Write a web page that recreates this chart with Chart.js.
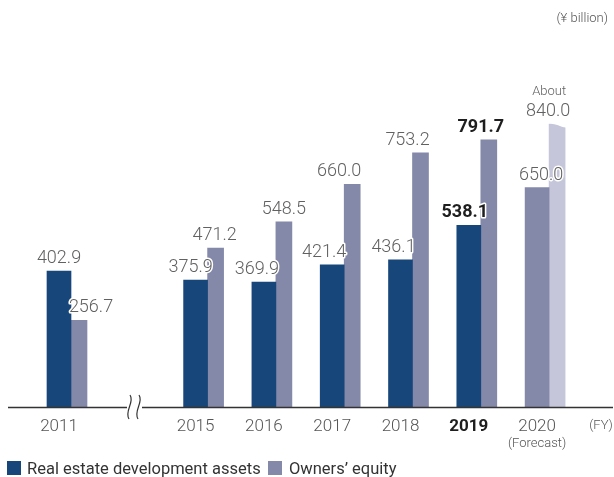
<!DOCTYPE html>
<html>
<head>
<meta charset="utf-8">
<script src="https://cdn.jsdelivr.net/npm/chart.js@4/dist/chart.umd.min.js"></script>
<style>
  html, body { margin: 0; padding: 0; background: #fff; }
  #wrap { width: 614px; height: 477px; position: relative; }
</style>
</head>
<body>
<div id="wrap"><canvas id="myChart"></canvas></div>
<script>
// values in ¥ billion
const years = ['2011', '', '2015', '2016', '2017', '2018', '2019', '2020'];
const realEstate = [402.9, null, 375.9, 369.9, 421.4, 436.1, 538.1, null];
const ownersEquity = [256.7, null, 471.2, 548.5, 660.0, 753.2, 791.7, 650.0];
const forecastAbout = [null, null, null, null, null, null, null, 840.0];
const seriesNames = ['Real estate development assets', 'Owners\u2019 equity'];

const navy = '#17477a';
const equityCol = '#8488a9';
const lightCol = '#c5c6d9';
const boldIndex = 6;

// 2020 is a forecast: equity takes the first slot, "about" figure the second
let slotA = [];
let slotB = [];
for (let i = 0; i < years.length; i++) {
    if (forecastAbout[i] !== null) {
        slotA.push(ownersEquity[i]);
        slotB.push(forecastAbout[i]);
    } else {
        slotA.push(realEstate[i]);
        slotB.push(ownersEquity[i]);
    }
}

// hand nudges so the figures do not collide, like the original
const labelDx = [
    [0, 0, -5, -7, -8, -7, -4, 4],
    [12, 0, -1, 0, -13, -13, -8, -9]
];

const lightFont = '300 18px Roboto, "Liberation Sans", sans-serif';
const boldFont = 'bold 18px Roboto, "Liberation Sans", sans-serif';

const decor = {
    id: 'decor',
    afterDatasetsDraw(chart) {
        const ctx = chart.ctx;
        const baseY = chart.chartArea.bottom;
        ctx.save();

        // wavy top on the forecast bar
        const metaB = chart.getDatasetMeta(1);
        for (let i = 0; i < years.length; i++) {
            if (forecastAbout[i] === null) continue;
            const bar = metaB.data[i];
            const x0 = bar.x - bar.width / 2, x1 = bar.x + bar.width / 2, t = bar.y;
            ctx.fillStyle = '#fff';
            ctx.beginPath();
            ctx.moveTo(x0 - 1, t - 3);
            ctx.lineTo(x1 + 1, t - 3);
            ctx.lineTo(x1 + 1, t + 4);
            ctx.bezierCurveTo(x0 + 10, t + 3, x0 + 5, t - 1, x0 - 1, t + 0.5);
            ctx.closePath();
            ctx.fill();
        }

        // axis line with a break
        ctx.strokeStyle = '#333';
        ctx.lineWidth = 1.5;
        ctx.beginPath();
        ctx.moveTo(8, baseY + 0.5);
        ctx.lineTo(127, baseY + 0.5);
        ctx.moveTo(142, baseY + 0.5);
        ctx.lineTo(613, baseY + 0.5);
        ctx.stroke();
        ctx.lineWidth = 1.2;
        [129, 138].forEach(function (sx) {
            ctx.beginPath();
            ctx.moveTo(sx + 1, baseY - 12);
            ctx.bezierCurveTo(sx + 6, baseY - 5, sx - 5, baseY + 4, sx, baseY + 12);
            ctx.stroke();
        });

        // value labels
        ctx.lineJoin = 'round';
        ctx.textAlign = 'center';
        ctx.textBaseline = 'alphabetic';
        [0, 1].forEach(function (d) {
            const meta = chart.getDatasetMeta(d);
            const vals = d === 0 ? slotA : slotB;
            for (let i = 0; i < vals.length; i++) {
                if (vals[i] === null) continue;
                const bar = meta.data[i];
                const tx = bar.x + labelDx[d][i];
                const ty = bar.y - 8;
                ctx.font = i === boldIndex ? boldFont : lightFont;
                ctx.lineWidth = 3;
                ctx.strokeStyle = '#fff';
                ctx.strokeText(vals[i].toFixed(1), tx, ty);
                ctx.fillStyle = i === boldIndex ? '#1e1e1e' : '#616161';
                ctx.fillText(vals[i].toFixed(1), tx, ty);
                if (d === 1 && forecastAbout[i] !== null) {
                    ctx.font = '300 13px Roboto, "Liberation Sans", sans-serif';
                    ctx.fillText('About', tx + 1, ty - 21);
                }
            }
        });

        // category labels, centred on the first bar of each group
        const metaA = chart.getDatasetMeta(0);
        for (let i = 0; i < years.length; i++) {
            if (!years[i]) continue;
            const cx = metaA.data[i].x;
            ctx.font = i === boldIndex ? 'bold 17px Roboto, sans-serif' : '300 17px Roboto, sans-serif';
            ctx.fillStyle = i === boldIndex ? '#1e1e1e' : '#555';
            ctx.fillText(years[i], cx, baseY + 24);
            if (forecastAbout[i] !== null) {
                ctx.font = '300 13px Roboto, sans-serif';
                ctx.fillStyle = '#555';
                ctx.fillText('(Forecast)', cx, baseY + 40);
            }
        }
        ctx.font = '300 13px Roboto, sans-serif';
        ctx.fillStyle = '#555';
        ctx.fillText('(FY)', 601, baseY + 22);

        ctx.textAlign = 'right';
        ctx.fillText('(\u00a5 billion)', 608, 22);

        // legend
        ctx.textAlign = 'left';
        ctx.font = '16.5px Roboto, sans-serif';
        ctx.fillStyle = navy;
        ctx.fillRect(7, 461, 14, 14);
        ctx.fillStyle = '#333';
        ctx.fillText(seriesNames[0], 27, 474);
        ctx.fillStyle = equityCol;
        ctx.fillRect(268, 461, 14, 14);
        ctx.fillStyle = '#333';
        ctx.fillText(seriesNames[1], 289, 474);

        ctx.restore();
    }
};

let myChart = new Chart(document.getElementById('myChart'), {
    type: 'bar',
    data: {
        labels: years,
        datasets: [
            {
                label: seriesNames[0],
                data: slotA,
                barThickness: 24,
                backgroundColor: slotA.map((v, i) => forecastAbout[i] !== null ? equityCol : navy)
            },
            {
                label: seriesNames[1],
                data: slotB,
                barThickness: 16,
                backgroundColor: slotB.map((v, i) => forecastAbout[i] !== null ? lightCol : equityCol)
            }
        ]
    },
    options: {
        responsive: true,
        maintainAspectRatio: false,
        animation: false,
        layout: { padding: { left: 36.85, right: 30.75, top: 2, bottom: 70 } },
        plugins: { legend: { display: false }, tooltip: { enabled: false } },
        scales: {
            x: { display: false },
            y: { display: false, min: 0, max: 1200 }
        }
    },
    plugins: [decor]
});
</script>
</body>
</html>
